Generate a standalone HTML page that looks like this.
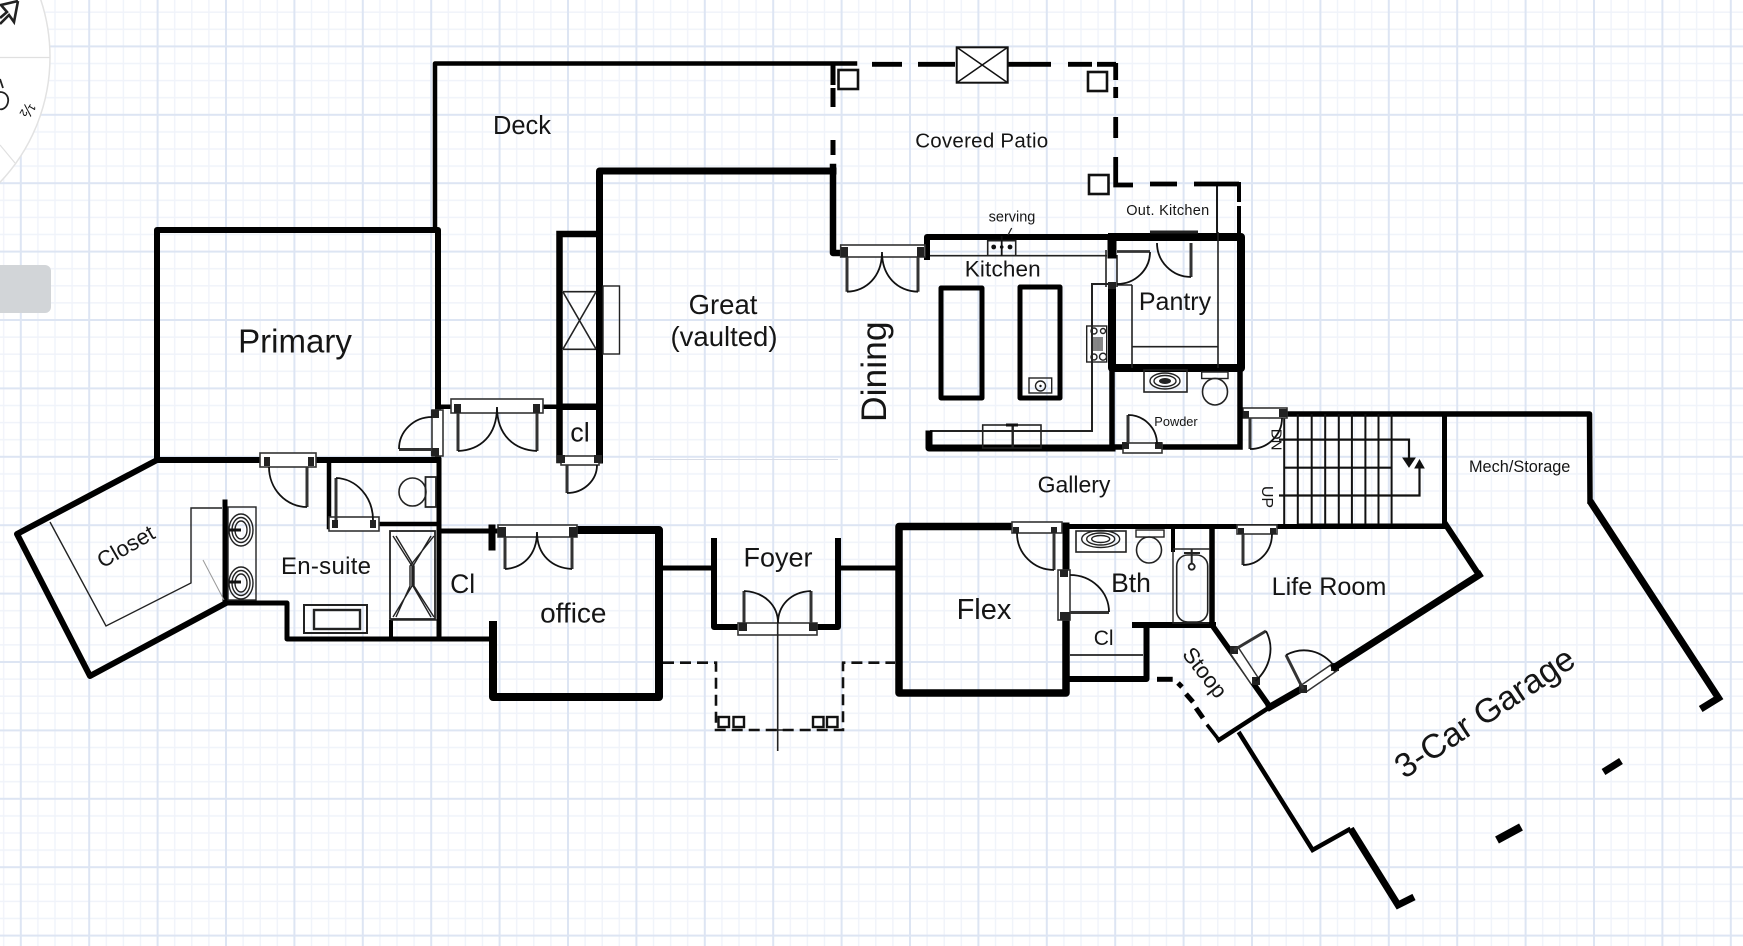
<!DOCTYPE html>
<html>
<head>
<meta charset="utf-8">
<style>
html,body{margin:0;padding:0;background:#fff;width:1743px;height:946px;overflow:hidden}
svg{display:block}
text{font-family:"Liberation Sans",sans-serif;fill:#151515;text-anchor:middle}
.w{fill:none;stroke:#000;stroke-linecap:square;stroke-linejoin:round}
.t{fill:none;stroke:#222;stroke-width:1.4}
.f{fill:#fff;stroke:#333;stroke-width:1.6}
.l{fill:none;stroke:#333;stroke-width:3}
.a{fill:none;stroke:#111;stroke-width:1.8}
.h{fill:#222}
</style>
</head>
<body>
<svg width="1743" height="946" viewBox="0 0 1743 946" xmlns="http://www.w3.org/2000/svg">
<defs>
<pattern id="g" patternUnits="userSpaceOnUse" x="20.8" y="46.4" width="68.4" height="68.4">
<path d="M17.1 0V68.4M34.2 0V68.4M51.3 0V68.4M0 17.1H68.4M0 34.2H68.4M0 51.3H68.4" stroke="#f0f3fa" stroke-width="1.4" fill="none"/>
<path d="M0 0V68.4M0 0H68.4M68.4 0V68.4M0 68.4H68.4" stroke="#dde5f3" stroke-width="2" fill="none"/>
</pattern>
</defs>
<rect width="1743" height="946" fill="#fff"/>
<rect width="1743" height="946" fill="url(#g)"/>

<!-- compass and panel -->
<circle cx="-132" cy="57" r="182" fill="#fff" stroke="#e2e2e2" stroke-width="1.5"/>
<path d="M0 57.5H50M0 145L15 163" stroke="#e0e0e0" stroke-width="1.2" fill="none"/>
<path d="M18 1L14 22L9 15L0 24M18 1L1 5L7 12L0 18" fill="none" stroke="#222" stroke-width="2.6"/>
<path d="M0 79L3 88M0 92C6 92 9 97 8 102C7 108 2 110 0 109" fill="none" stroke="#222" stroke-width="1.8"/>
<text x="27" y="115" font-size="17" fill="#444" transform="rotate(120 27 110)">½</text>
<rect x="-10" y="265" width="61" height="48" rx="6" fill="#d2d5d8"/>

<!-- deck and primary -->
<path class="w" stroke-width="4.5" d="M435 230V63.5H855"/>
<rect class="w" x="157" y="230" width="281" height="230" stroke-width="6"/>
<path class="w" stroke-width="5" d="M439 460V639"/>
<path class="w" stroke-width="6" d="M157 460L17 534L90 676L226 603"/>
<path class="w" stroke-width="5" d="M226 603H287V639H492"/>
<path class="w" stroke-width="5" d="M225 502V603"/>
<path class="w" stroke-width="4.5" d="M329 460V527M380 524H439"/>
<path class="w" stroke-width="4" d="M391 622V639"/>
<path class="t" d="M50 522L106 626L191 583V508H222"/>
<path d="M203 560L224 600" stroke="#999" stroke-width="1" fill="none"/>

<!-- ensuite fixtures -->
<rect class="t" x="228" y="507" width="28" height="93"/>
<ellipse class="t" cx="241" cy="530" rx="12" ry="16"/><ellipse class="t" cx="241" cy="530" rx="9" ry="12.5"/><ellipse class="t" cx="241" cy="530" rx="6" ry="9"/>
<ellipse class="t" cx="241" cy="583" rx="12" ry="16"/><ellipse class="t" cx="241" cy="583" rx="9" ry="12.5"/><ellipse class="t" cx="241" cy="583" rx="6" ry="9"/>
<path d="M229 530H241M229 582H241" stroke="#111" stroke-width="3"/>
<rect class="t" x="304" y="605" width="63" height="28" style="stroke-width:2"/>
<rect class="t" x="314" y="610" width="46" height="19" style="stroke-width:2.4"/>
<rect class="t" x="390" y="531" width="45" height="88" style="stroke-width:1.8"/>
<path class="t" d="M393 536L412 566V586L393 617M431 536L413 566V586L431 617M396 536L414 566V586L434 617M434 536L410 566V586L396 617"/>
<path class="t" d="M391 620H437"/>
<path class="t" d="M425.5 477H436V507H425.5ZM425.5 477V507" style="stroke-width:1.8"/>
<ellipse class="t" cx="412.5" cy="492" rx="13.5" ry="14" style="stroke-width:1.6"/>

<!-- doors: ensuite -->
<rect class="f" x="260" y="453" width="56" height="14"/>
<rect class="h" x="264" y="457" width="6" height="9"/><rect class="h" x="308" y="457" width="6" height="9"/>
<path class="l" d="M307 467V507"/><path class="a" d="M307 507A38 40 0 0 1 269 467"/>
<rect class="f" x="329" y="517" width="50" height="14"/>
<rect class="h" x="332" y="520" width="6" height="8"/><rect class="h" x="370" y="520" width="6" height="8"/>
<path class="l" d="M336 478V520"/><path class="a" d="M336 478A38 42 0 0 1 373 520"/>

<!-- left door to primary -->
<rect class="f" x="432" y="410" width="11" height="46"/>
<rect class="h" x="431" y="410" width="8" height="8"/><rect class="h" x="431" y="448" width="8" height="8"/>
<path class="l" d="M399 449.5H432"/><path class="a" d="M399 449A33 32 0 0 1 432 417"/>

<!-- deck french door -->
<path class="w" stroke-width="4.5" d="M441 406.7H450M544 406.7H557"/>
<rect class="f" x="451" y="399" width="92" height="14"/>
<rect class="h" x="454" y="404" width="7" height="9"/><rect class="h" x="533" y="404" width="7" height="9"/>
<path class="l" d="M458 413V451M537 413V451"/>
<path class="a" d="M458 451C480 450 497 436 497 407C497 436 515 450 537 451"/>

<!-- great room -->
<path class="w" stroke-width="7" d="M599.5 234V171H833"/>
<path class="w" stroke-width="6.5" d="M833 167V253H843"/>
<path class="w" stroke-width="7" d="M599.5 234V460"/>
<path class="w" stroke-width="6.5" d="M559.5 234H599M559.5 234V460M559.5 406.7H599"/>
<path class="t" d="M563 291.7H596M563 349.3H596M563 292L596 349M596 292L563 349" style="stroke-width:1.6"/>
<rect class="t" x="603" y="286" width="16.5" height="68"/>
<rect class="f" x="561" y="456" width="38" height="9"/>
<rect class="h" x="557" y="455" width="8" height="8"/><rect class="h" x="594" y="455" width="8" height="8"/>
<path class="l" d="M567 465V493"/><path class="a" d="M567 493A30 28 0 0 0 597 465"/>
<path d="M650 459.5H838" stroke="#d8dce6" stroke-width="1"/>

<!-- cl / office -->
<path class="w" stroke-width="5" d="M439 531H495"/>
<path class="w" stroke-width="7" d="M492 528V547"/>
<path class="w" stroke-width="8" d="M577 530H659V697H493V625"/>
<path class="w" stroke-width="5" d="M439 639H490"/>
<rect class="f" x="498" y="525" width="79" height="12"/>
<rect class="h" x="498" y="527" width="8" height="10"/><rect class="h" x="569" y="527" width="8" height="10"/>
<path class="l" d="M505 537V569M572 537V569"/>
<path class="a" d="M505 569C522 568 537 556 537 532C537 556 553 568 572 569"/>

<!-- foyer -->
<path class="w" stroke-width="5" d="M662 568H713M839 568H899"/>
<path class="w" stroke-width="6" d="M714 541V627H738M818 627H838V541"/>
<rect class="f" x="738" y="623" width="79" height="12"/>
<rect class="h" x="739" y="623" width="8" height="8"/><rect class="h" x="809" y="623" width="8" height="8"/>
<path class="l" d="M744 623V591M811 623V591"/>
<path class="a" d="M744 591C765 592 778 606 778 623C778 606 790 592 811 591"/>
<path d="M777.7 623V751M766 730H790" stroke="#222" stroke-width="1.6" fill="none"/>
<path d="M663 662.7H716V730H843V662.7H895" fill="none" stroke="#111" stroke-width="2.6" stroke-dasharray="11 6"/>
<g fill="#fff" stroke="#111" stroke-width="2.4">
<rect x="718.5" y="717" width="10.5" height="10"/><rect x="733.5" y="717" width="10.5" height="10"/>
<rect x="813" y="717" width="10.5" height="10"/><rect x="827" y="717" width="10.5" height="10"/>
</g>

<!-- flex -->
<path class="w" stroke-width="7.5" d="M1012 526.5H899V693H1066V618"/>
<path class="w" stroke-width="7" d="M1066 526V570"/>
<path class="w" stroke-width="5" d="M1062 526.5H1444"/>
<path class="w" stroke-width="6" d="M1066 679H1146.5V625M1135 625H1213"/>
<path class="w" stroke-width="4" d="M1173 527V550"/>
<path class="w" stroke-width="5.5" d="M1212 527V625L1270 707"/>
<path d="M1070 655H1143" stroke="#222" stroke-width="1.8"/>
<rect class="f" x="1012" y="522" width="50" height="11"/>
<rect x="1022" y="523" width="30" height="8" fill="#fff"/>
<rect class="h" x="1013" y="527" width="6" height="6"/><rect class="h" x="1051" y="527" width="6" height="6"/>
<path class="l" d="M1054 533V570"/><path class="a" d="M1054 570A37 37 0 0 1 1017 533"/>
<rect class="f" x="1058" y="570" width="12" height="50"/>
<rect class="h" x="1060" y="570" width="8" height="7"/><rect class="h" x="1060" y="612" width="10" height="8"/>
<path class="l" d="M1070 612.5H1109"/><path class="a" d="M1109 612A39 37 0 0 0 1070 575"/>
<rect class="t" x="1076" y="531" width="50" height="21" style="stroke-width:1.6"/>
<ellipse class="t" cx="1100.7" cy="539" rx="19" ry="8.5"/><ellipse class="t" cx="1100.7" cy="539" rx="14" ry="6"/><ellipse class="t" cx="1100.7" cy="539" rx="9" ry="3.5"/>
<rect class="t" x="1136" y="530" width="28" height="7"/>
<ellipse class="t" cx="1149" cy="550" rx="12.5" ry="13" style="stroke-width:1.6"/>
<path class="t" d="M1173 549H1210"/>
<rect class="t" x="1176.7" y="555" width="31" height="67" rx="11" style="stroke-width:1.6"/>
<circle class="t" cx="1191.7" cy="566.7" r="3" style="stroke-width:1.8"/>
<path class="t" d="M1191.7 549V563M1184 553H1200" style="stroke-width:2"/>
<path class="t" d="M1173 550V623H1209" style="stroke-width:1.4"/>
<rect class="f" x="1237" y="525" width="40" height="9"/>
<rect class="h" x="1238" y="528" width="6" height="6"/><rect class="h" x="1270" y="528" width="6" height="6"/>
<path class="l" d="M1243 534V565"/><path class="a" d="M1243 565A29 31 0 0 0 1272 534"/>

<!-- stoop -->
<path d="M1157 679.3H1172.7" stroke="#000" stroke-width="5"/>
<path d="M1178 683L1182 687M1186 694L1193 702M1196 708L1203 718" stroke="#000" stroke-width="5" fill="none"/>
<path class="w" stroke-width="3.5" d="M1208 726L1219 740"/>
<path class="w" stroke-width="4.5" d="M1219 740L1270 707"/>
<path class="w" stroke-width="7" d="M1270 707L1303 688"/>
<path d="M1234 650L1255.5 681.4" stroke="#fff" stroke-width="9"/>
<path d="M1230 653L1251 684M1238 647L1259 679" stroke="#333" stroke-width="1.5"/>
<rect class="h" x="1230" y="646" width="8" height="8"/><rect class="h" x="1252" y="677" width="8" height="8"/>
<path class="l" d="M1234 650L1266 631"/><path class="a" d="M1266 631C1275 648 1270 668 1255.5 681"/>
<path d="M1303 689L1335 667" stroke="#fff" stroke-width="8"/>
<path d="M1300 686L1332 664M1306 692L1338 670" stroke="#333" stroke-width="1.5"/>
<rect class="h" x="1299" y="685" width="8" height="8"/><rect class="h" x="1331" y="663" width="8" height="8"/>
<path class="l" d="M1303 689L1286 655"/><path class="a" d="M1286 655C1303 646 1322 650 1335 667"/>

<!-- life room -->
<path class="w" stroke-width="7" d="M1335 667L1479 575"/>
<path class="w" stroke-width="6" d="M1479 575L1446 525"/>

<!-- garage and mech -->
<path class="w" stroke-width="5" d="M1444.5 414V524M1444 526H1300"/>
<path class="w" stroke-width="5.5" d="M1280 414H1589.5L1590 501"/>
<path d="M1590 501L1718.5 698L1700.7 709" fill="none" stroke="#000" stroke-width="7" stroke-linejoin="miter"/>
<path d="M1603.5 772L1621 761" stroke="#000" stroke-width="7"/>
<path d="M1497 840L1521 827" stroke="#000" stroke-width="8"/>
<path d="M1238.6 732L1312.6 850L1350.6 828.7" fill="none" stroke="#000" stroke-width="4.5"/>
<path d="M1350.6 828.7L1398 905L1414 897" fill="none" stroke="#000" stroke-width="7"/>

<!-- stairs -->
<path d="M1284.2 414V524M1297.8 414V524M1311.7 414V524M1325.2 414V524M1338.8 414V524M1351.9 414V524M1365.4 414V524M1378.5 414V524M1391.6 414V524" stroke="#111" stroke-width="2"/>
<path d="M1279 439.6H1409V464M1284 467.7H1391M1279 495.5H1419.5V464" fill="none" stroke="#111" stroke-width="2.2"/>
<path d="M1403 458L1409 467L1415 458Z M1415 468L1419.5 460L1424 468Z" fill="#111" stroke="#111"/>
<rect class="f" x="1243" y="408" width="44" height="10"/>
<rect class="h" x="1241" y="411" width="8" height="7"/><rect class="h" x="1279" y="409" width="8" height="8"/>
<path class="l" d="M1250 418V449"/><path class="a" d="M1250 449A32 31 0 0 0 1282 418"/>

<!-- patio -->
<path d="M872 64.3H902M918 64.3H955M1008 64.3H1051M1068 64.3H1092M1097 64.3H1116M1115.7 63V80M1115.7 87V98M1115.7 117V138M1115.7 157V185H1133M1150 184H1177M1194 184H1239" fill="none" stroke="#000" stroke-width="4.8"/>
<path d="M833 64V85M833 88V107M833 140V155" fill="none" stroke="#000" stroke-width="5"/>
<rect x="956.7" y="47.3" width="51" height="35.4" fill="#fff" stroke="#111" stroke-width="2"/>
<path d="M956.7 47.3L1007.7 82.7M1007.7 47.3L956.7 82.7" stroke="#111" stroke-width="1.5"/>
<g fill="#fff" stroke="#111" stroke-width="2.6">
<rect x="838.5" y="70" width="19.5" height="19"/><rect x="1088" y="72" width="19" height="19"/><rect x="1089" y="175" width="19.5" height="19"/>
</g>

<!-- kitchen -->
<path class="w" stroke-width="6" d="M927 257V237H1112"/>
<path class="t" d="M930 255.7H1107" style="stroke-width:1.6"/>
<path class="t" d="M1106 250V287M1117 255V287" style="stroke-width:1.6"/>
<path class="t" d="M1110 284H1092V431H930" style="stroke-width:2"/>
<path class="w" stroke-width="7" d="M929 434V448H1112"/>
<rect class="t" x="982.7" y="425" width="58.3" height="23" style="stroke-width:1.6"/>
<path class="t" d="M1012.7 425V448" style="stroke-width:2.4"/>
<path d="M1006 425H1018" stroke="#111" stroke-width="3"/>
<rect class="w" x="941" y="288" width="41" height="110" stroke-width="5" />
<rect class="w" x="1020" y="287" width="40" height="111" stroke-width="5"/>
<rect class="t" x="1029" y="378" width="22.7" height="15"/>
<circle class="t" cx="1040.5" cy="386" r="5"/><circle cx="1040.5" cy="386" r="1.2" fill="#111"/>
<rect class="t" x="987.7" y="240.7" width="28" height="15" style="stroke-width:1.6"/>
<path d="M1001.7 236V256" stroke="#111" stroke-width="1.8"/>
<circle cx="993.7" cy="247" r="2.4" fill="#111"/><circle cx="1001.7" cy="247" r="1.8" fill="#111"/><circle cx="1010" cy="247" r="2.4" fill="#111"/>
<path d="M1011.7 228L1008 235" stroke="#222" stroke-width="1.3"/>
<rect class="t" x="1086.7" y="326" width="20" height="36"/>
<circle class="t" cx="1094" cy="331" r="3"/><circle class="t" cx="1103" cy="331" r="2.5"/><circle class="t" cx="1094" cy="357" r="3"/><circle class="t" cx="1103" cy="356.7" r="3.5"/>
<path d="M1092 337V351M1094 337V351M1096 337V351M1098 337V351M1100 337V351M1102 337V351" stroke="#222" stroke-width="1.1"/>
<rect class="f" x="840.7" y="245" width="84.3" height="12"/>
<rect class="h" x="841" y="247" width="7" height="10"/><rect class="h" x="917" y="247" width="7" height="10"/>
<path class="l" d="M847 257V291.7M918 257V291.7"/>
<path class="a" d="M847 291.7C866 291 882 277 882 252C882 277 898 291 918 291.7"/>

<!-- pantry -->
<path class="w" stroke-width="8" d="M1112 237H1241V368H1112V287"/>
<path class="w" stroke-width="9" d="M1112 240V254"/>
<path class="t" d="M1132 285H1117M1132 285V368M1132 346.7H1218M1218 232V368" style="stroke-width:1.6"/>
<path class="w" stroke-width="1.8" d="M1217 232V184"/>
<path class="w" stroke-width="4" d="M1239 184V200M1239 208V232"/>
<path d="M1150 232H1198" stroke="#222" stroke-width="3"/>
<path class="l" d="M1191 243V277"/><path class="a" d="M1191 277A34 34 0 0 1 1157 243"/>
<path class="l" d="M1117 251.5H1150" style="stroke-width:2.8"/><path class="a" d="M1150 252A33 32 0 0 1 1117 284"/>
<rect class="h" x="1108" y="282" width="8" height="7"/>

<!-- powder -->
<path class="w" stroke-width="5.5" d="M1112 368V447M1112 447H1123M1161 447H1240M1240 368V447"/>
<rect class="f" x="1123" y="443" width="39" height="10"/>
<rect class="h" x="1122" y="442" width="7" height="7"/><rect class="h" x="1155" y="442" width="7" height="7"/>
<path class="l" d="M1128 443V415"/><path class="a" d="M1128 415A29 29 0 0 1 1157 444"/>
<rect class="t" x="1144" y="370" width="43" height="22" style="stroke-width:1.6"/>
<ellipse class="t" cx="1165" cy="381" rx="15" ry="8"/><ellipse class="t" cx="1165" cy="381" rx="11" ry="5.5"/><ellipse cx="1165" cy="381" rx="6" ry="3" fill="#222"/>
<rect class="t" x="1201.7" y="372" width="26.3" height="6.5"/>
<ellipse class="t" cx="1215" cy="391.7" rx="12.5" ry="13.3" style="stroke-width:1.6"/>

<!-- labels -->
<text x="522" y="134" font-size="25.5">Deck</text>
<text x="295" y="352.7" font-size="33">Primary</text>
<text x="981.7" y="147.3" font-size="20.5" textLength="133">Covered Patio</text>
<text x="1012" y="221.5" font-size="14.5" fill="#333">serving</text>
<text x="1167.7" y="215" font-size="14.5" textLength="83">Out. Kitchen</text>
<text x="1002.7" y="276.7" font-size="22.5" textLength="76">Kitchen</text>
<text x="1175" y="310" font-size="25">Pantry</text>
<text x="723" y="314" font-size="27.5">Great</text>
<text x="724" y="346" font-size="27.5">(vaulted)</text>
<text x="886" y="371.7" font-size="35.5" transform="rotate(-90 886 371.7)">Dining</text>
<text x="580" y="441.7" font-size="27">cl</text>
<text x="1176" y="426" font-size="12.8">Powder</text>
<text x="1074" y="492.7" font-size="23">Gallery</text>
<text x="1519.7" y="472" font-size="16.3">Mech/Storage</text>
<text x="326" y="574" font-size="24" textLength="90">En-suite</text>
<text x="462.7" y="593" font-size="26.5">Cl</text>
<text x="573.3" y="622.7" font-size="28">office</text>
<text x="778" y="566.7" font-size="27">Foyer</text>
<text x="984" y="619" font-size="29">Flex</text>
<text x="1131" y="592" font-size="26.5">Bth</text>
<text x="1103.7" y="645" font-size="21">Cl</text>
<text x="1329" y="595" font-size="25.2">Life Room</text>
<text x="126" y="554" font-size="22" transform="rotate(-30 126 547)">Closet</text>
<text x="1203" y="683" font-size="22" transform="rotate(52 1207 676)">Stoop</text>
<text x="1491" y="722" font-size="34" transform="rotate(-33.6 1491 722)">3-Car Garage</text>
<text x="1266" y="434" font-size="15" fill="#444" transform="rotate(90 1266 439.6)">DN</text>
<text x="1262" y="497" font-size="16" transform="rotate(90 1262 497)">UP</text>
</svg>
</body>
</html>
